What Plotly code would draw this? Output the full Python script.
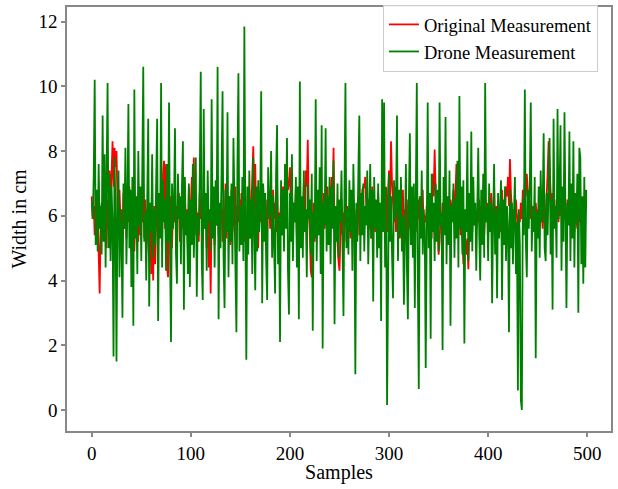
import plotly.graph_objects as go

samples = list(range(500))

original = [
    6.6, 5.9, 6.3, 5.4, 6.8, 5.2, 6.1, 4.5, 3.6, 5.7,
    6.4, 5.3, 6.9, 5.8, 7.2, 5.0, 6.5, 5.6, 7.4, 6.2,
    7.8, 8.3, 6.9, 8.1, 7.5, 8.0, 6.4, 5.5, 6.8, 5.9,
    6.2, 5.1, 6.7, 5.6, 7.0, 5.3, 6.4, 5.8, 6.9, 5.0,
    6.3, 5.5, 7.1, 4.9, 6.0, 5.7, 6.6, 5.2, 6.8, 5.4,
    6.1, 5.8, 7.0, 5.3, 6.5, 4.8, 6.2, 5.6, 4.6, 6.0,
    4.2, 5.5, 4.0, 6.3, 4.5, 5.9, 6.7, 5.1, 6.4, 5.7,
    6.9, 5.4, 7.3, 7.7, 5.6, 7.6, 4.4, 4.1, 6.2, 5.3,
    6.6, 5.0, 6.1, 5.8, 7.0, 5.4, 6.3, 5.9, 6.7, 5.2,
    6.0, 5.6, 6.8, 5.1, 6.4, 5.7, 6.2, 5.0, 6.9, 5.5,
    6.3, 7.2, 6.0, 7.8, 5.4, 6.6, 5.8, 6.1, 5.2, 6.7,
    5.9, 6.4, 5.3, 6.8, 5.6, 6.2, 5.0, 6.5, 4.4, 5.8,
    3.6, 6.0, 5.5, 6.7, 5.1, 6.3, 5.7, 6.9, 5.4, 6.1,
    5.8, 6.5, 5.2, 6.2, 5.6, 7.0, 5.3, 6.4, 5.9, 6.6,
    5.1, 6.8, 5.5, 6.1, 5.7, 6.9, 5.0, 6.3, 5.8, 6.5,
    5.4, 6.7, 5.9, 6.2, 5.2, 6.6, 4.6, 6.0, 5.5, 6.8,
    5.3, 6.4, 7.1, 8.15, 6.2, 7.6, 5.6, 6.1, 5.0, 6.7,
    5.8, 6.3, 5.4, 6.9, 5.7, 6.0, 5.2, 6.5, 5.9, 6.6,
    5.6, 6.2, 5.3, 6.8, 5.9, 6.4, 5.5, 7.0, 5.1, 6.1,
    5.7, 6.5, 5.4, 6.9, 6.0, 7.1, 6.3, 7.3, 6.8, 7.0,
    7.5, 6.2, 6.8, 5.6, 6.4, 5.8, 6.9, 5.3, 6.1, 5.7,
    6.6, 5.4, 6.3, 5.9, 7.0, 5.5, 7.4, 6.9, 8.35, 6.1,
    5.6, 4.3, 4.1, 5.9, 6.4, 5.2, 6.8, 5.7, 6.0, 5.4,
    6.5, 5.8, 6.2, 5.1, 6.7, 5.6, 6.3, 5.9, 6.9, 5.3,
    6.0, 6.6, 7.2, 6.4, 8.1, 5.5, 6.2, 5.8, 5.0, 4.6,
    4.3, 5.9, 6.5, 5.4, 6.1, 5.7, 6.8, 5.2, 6.3, 5.6,
    6.0, 5.3, 6.7, 5.8, 6.4, 5.5, 5.1, 6.2, 5.9, 6.6,
    5.4, 6.1, 5.7, 6.8, 6.9, 6.86, 7.2, 6.3, 5.8, 6.5,
    5.6, 6.2, 5.3, 6.9, 5.9, 6.4, 5.5, 6.0, 5.2, 6.7,
    5.8, 6.3, 5.4, 6.6, 6.1, 6.9, 5.7, 6.2, 5.5, 6.8,
    7.4, 6.5, 8.3, 7.0, 6.3, 5.8, 6.9, 5.5, 6.4, 5.9,
    6.6, 5.3, 6.1, 5.7, 6.8, 5.4, 6.2, 5.9, 6.5, 5.1,
    6.3, 5.6, 6.0, 5.8, 6.7, 5.2, 6.4, 5.5, 6.1, 5.9,
    6.5, 5.7, 6.6, 6.2, 6.8, 5.4, 6.0, 5.8, 6.3, 5.6,
    6.1, 5.9, 6.7, 5.3, 7.3, 6.6, 8.05, 6.2, 5.5, 5.9,
    4.8, 5.2, 6.0, 5.7, 6.4, 5.5, 6.2, 5.8, 6.6, 5.3,
    6.1, 5.6, 6.5, 5.9, 6.3, 6.8, 5.7, 7.1, 7.6, 6.4,
    5.8, 6.2, 5.4, 6.0, 4.9, 4.5, 5.6, 5.1, 4.8, 5.3,
    4.35, 5.7, 5.2, 6.1, 5.5, 6.4, 5.9, 6.2, 5.6, 6.0,
    5.8, 6.5, 5.3, 6.3, 5.7, 6.6, 5.4, 6.1, 5.9, 6.4,
    5.5, 6.2, 5.8, 6.7, 5.6, 6.0, 6.9, 5.4, 6.3, 5.7,
    6.5, 5.9, 6.1, 5.5, 6.8, 5.8, 6.4, 6.0, 6.9, 6.6,
    7.2, 6.3, 7.75, 6.7, 6.0, 5.6, 6.2, 5.8, 6.5, 5.7,
    5.5, 6.1, 5.8, 6.4, 5.9, 6.8, 6.3, 7.0, 6.6, 7.3,
    6.9, 6.2, 6.5, 5.9, 6.3, 5.7, 6.1, 5.8, 6.4, 6.0,
    6.2, 5.9, 6.5, 6.76, 6.1, 5.6, 6.3, 5.8, 6.0, 6.6,
    7.3, 8.3, 7.5, 6.4, 6.0, 6.7, 5.9, 6.2, 5.7, 6.5,
    6.1, 5.8, 6.6, 6.0, 6.3, 5.5, 6.4, 5.9, 6.2, 5.6,
    6.5, 5.8, 6.1, 5.7, 6.6, 6.0, 6.3, 5.5, 6.2, 5.9,
    5.6, 6.4, 5.8, 6.1, 5.7, 6.3, 5.9, 6.0, 6.4, 6.2,
]

drone = [
    6.4, 5.9, 7.2, 10.2, 5.1, 6.8, 4.9, 7.6, 5.6, 6.3,
    4.8, 9.1, 5.2, 7.9, 4.4, 6.6, 10.1, 5.0, 7.3, 4.6,
    6.9, 5.7, 1.65, 7.8, 6.1, 1.5, 6.5, 7.4, 4.1, 6.2,
    5.4, 2.85, 7.0, 5.6, 8.1, 4.5, 6.3, 9.45, 5.0, 6.8,
    3.8, 7.2, 2.6, 9.9, 5.3, 6.6, 4.2, 8.0, 5.7, 6.9,
    4.6, 7.4, 10.6, 5.2, 6.1, 4.0, 7.7, 9.0, 3.2, 6.4,
    5.5, 7.9, 4.7, 6.2, 5.1, 8.2, 9.0, 2.75, 6.7, 5.3,
    10.1, 4.4, 7.1, 5.8, 6.5, 4.3, 7.6, 5.2, 9.5, 4.9,
    2.1, 7.0, 5.6, 6.3, 8.7, 4.8, 3.9, 7.3, 5.9, 6.6,
    4.5, 6.9, 8.3, 3.1, 7.2, 5.4, 6.1, 4.2, 7.0, 3.8,
    6.5, 5.1, 7.6, 4.7, 6.3, 7.8, 3.5, 6.0, 5.4, 7.2,
    10.45, 4.6, 3.4, 9.3, 5.6, 6.7, 4.3, 7.4, 5.8, 6.2,
    4.9, 9.6, 5.3, 6.9, 4.4, 7.1, 5.7, 10.6, 2.8, 6.4,
    5.0, 7.3, 9.85, 4.7, 3.15, 6.8, 5.5, 9.2, 4.1, 6.6,
    5.2, 7.0, 4.5, 8.4, 6.1, 5.4, 2.4, 7.5, 10.4, 4.9,
    6.3, 5.1, 7.2, 4.6, 11.85, 5.8, 1.55, 6.9, 4.8, 7.4,
    5.3, 6.5, 4.2, 7.8, 5.6, 3.7, 6.9, 4.9, 7.1, 5.5,
    6.4, 9.85, 3.3, 7.0, 5.2, 6.7, 4.6, 3.4, 7.5, 5.9,
    6.2, 8.0, 4.7, 6.6, 5.1, 3.6, 7.3, 8.8, 4.5, 6.0,
    2.1, 7.1, 5.4, 6.8, 4.9, 7.6, 5.6, 8.4, 4.3, 2.95,
    6.7, 5.2, 7.9, 4.6, 6.4, 5.8, 7.2, 4.4, 6.9, 2.8,
    10.15, 5.0, 6.6, 4.7, 7.4, 5.5, 6.2, 4.1, 7.0, 5.9,
    6.5, 4.8, 7.3, 2.45, 6.1, 5.3, 9.6, 4.6, 6.8, 5.4,
    7.5, 4.2, 8.8, 1.9, 6.4, 5.7, 8.7, 4.9, 6.6, 5.1,
    7.2, 4.5, 6.9, 5.6, 7.7, 2.65, 6.3, 5.2, 7.0, 4.7,
    6.5, 5.8, 7.4, 4.4, 2.9, 6.7, 10.1, 5.0, 6.2, 4.8,
    7.1, 5.5, 6.8, 4.3, 7.6, 5.9, 1.1, 6.4, 5.2, 7.3,
    9.1, 4.6, 6.7, 5.4, 7.0, 4.9, 6.3, 5.7, 7.4, 4.5,
    6.1, 7.6, 5.3, 6.8, 3.35, 7.2, 5.6, 6.5, 4.7, 7.0,
    5.0, 6.4, 2.75, 9.6, 5.5, 9.5, 4.4, 6.9, 0.15, 5.8,
    7.3, 5.2, 6.6, 4.8, 3.45, 7.1, 5.9, 6.3, 9.1, 4.6,
    6.8, 5.4, 7.2, 4.9, 6.0, 3.25, 5.7, 7.6, 4.4, 2.8,
    6.5, 8.55, 5.1, 6.9, 4.7, 7.0, 3.15, 5.8, 10.1, 4.2,
    0.65, 6.6, 5.3, 7.4, 4.8, 6.2, 5.6, 1.3, 7.1, 9.5,
    5.0, 6.7, 2.2, 7.3, 5.5, 6.4, 4.6, 7.0, 5.2, 6.8,
    4.9, 9.5, 5.7, 6.1, 1.85, 7.2, 5.4, 9.05, 4.5, 6.6,
    5.1, 7.4, 2.6, 6.3, 5.8, 7.0, 4.7, 6.5, 5.3, 7.7,
    4.4, 9.7, 5.6, 6.9, 4.8, 7.1, 2.05, 6.2, 5.5, 8.3,
    4.6, 6.7, 5.2, 8.6, 4.9, 7.2, 5.7, 6.4, 4.3, 7.0,
    8.1, 5.4, 4.0, 6.8, 5.1, 7.3, 4.7, 10.1, 5.8, 6.3,
    4.6, 7.0, 5.5, 6.4, 3.3, 5.9, 7.6, 4.8, 6.2, 3.45,
    6.7, 5.3, 6.0, 7.1, 3.4, 6.5, 5.1, 6.9, 4.6, 6.3,
    5.6, 2.4, 6.8, 5.0, 6.4, 4.5, 6.0, 7.2, 4.2, 5.8,
    0.6, 6.2, 5.1, 0.3, 0.0, 6.5, 5.4, 9.9, 5.2, 4.1,
    6.8, 5.6, 7.0, 9.5, 4.9, 6.3, 5.5, 7.2, 1.6, 6.1,
    5.3, 6.9, 4.7, 7.4, 5.8, 6.2, 8.55, 5.0, 4.6, 6.7,
    5.4, 7.1, 8.4, 4.8, 6.5, 3.1, 9.0, 5.6, 6.3, 4.7,
    9.3, 5.9, 6.6, 8.8, 4.3, 6.9, 5.2, 9.2, 4.9, 3.15,
    6.4, 5.7, 8.6, 4.6, 7.0, 5.3, 8.3, 4.4, 6.7, 5.8,
    7.3, 3.0, 8.1, 7.8, 4.5, 6.6, 3.9, 7.2, 4.4, 6.8,
]

x_ticks = [0, 100, 200, 300, 400, 500]
y_ticks = [0, 2, 4, 6, 8, 10, 12]

font_family = "Liberation Serif, Times New Roman, serif"

fig = go.Figure()
fig.add_trace(go.Scatter(x=samples, y=original, mode="lines",
                         name="Original Measurement",
                         line=dict(color="#ff0000", width=1.8)))
fig.add_trace(go.Scatter(x=samples, y=drone, mode="lines",
                         name="Drone Measurement",
                         line=dict(color="#008000", width=1.8)))

axis_common = dict(showline=True, mirror=True, linecolor="#888888", linewidth=1.5,
                   ticks="outside", ticklen=4, tickcolor="#888888", tickwidth=1.5,
                   showgrid=False, zeroline=False,
                   tickfont=dict(family=font_family, size=19, color="black"))

fig.update_layout(
    width=618, height=489,
    margin=dict(l=67, r=7, t=5, b=58),
    plot_bgcolor="white", paper_bgcolor="white",
    font=dict(family=font_family, color="black"),
    xaxis=dict(range=[-24.95, 523.95], tickvals=x_ticks,
               title=dict(text="Samples", font=dict(family=font_family, size=20), standoff=2),
               **axis_common),
    yaxis=dict(range=[-0.65, 12.45], tickvals=y_ticks,
               title=dict(text="Width in cm", font=dict(family=font_family, size=20), standoff=6),
               **axis_common),
    legend=dict(x=0.976, y=1.005, xanchor="right", yanchor="top",
                bgcolor="rgba(255,255,255,0.9)", bordercolor="#cccccc", borderwidth=1,
                font=dict(family=font_family, size=18.5, color="black"),
                itemwidth=30, tracegroupgap=0),
    showlegend=True,
)

fig.write_html("out.html", config={"displayModeBar": False},
               post_script="document.body.style.margin='0';")
